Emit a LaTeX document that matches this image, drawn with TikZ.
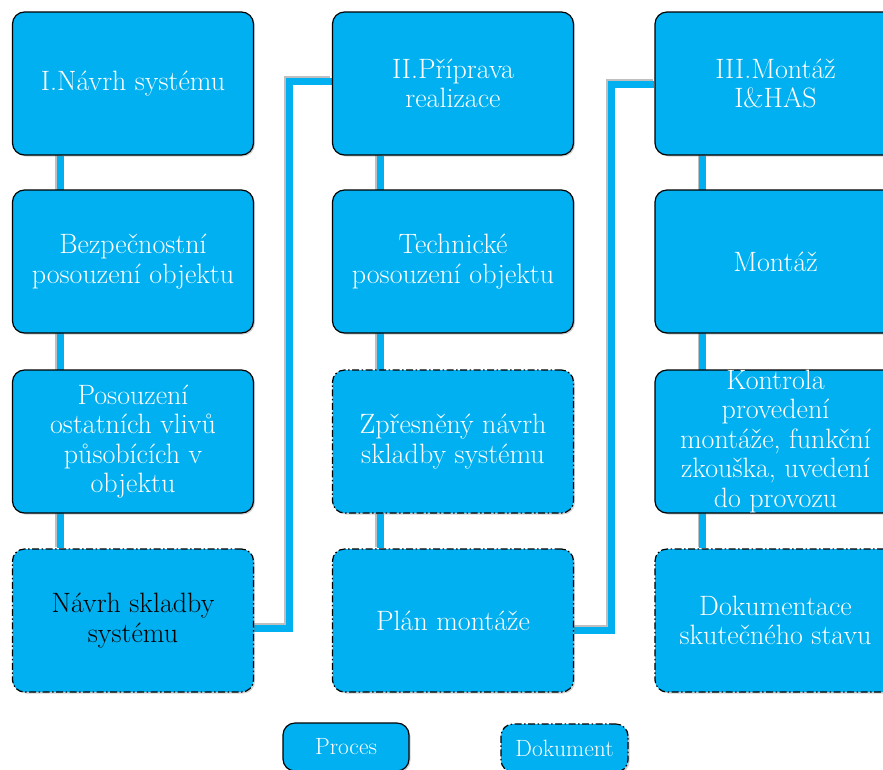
\documentclass[tikz,border=0pt]{standalone}
\usepackage{tikz}
\usetikzlibrary{shadows}
\usetikzlibrary{backgrounds}
\definecolor{boxcolor}{HTML}{00B0F0}
\definecolor{shadecolor}{HTML}{BFBFBF}

\tikzset{
  proces/.style={draw=black, line width=1.2pt, fill=boxcolor, rounded corners=12pt,
    text=white, align=center, inner sep=0pt,
    minimum width=241pt, minimum height=143pt,
    font=\rmfamily\fontsize{28}{29.5}\selectfont,
    drop shadow={opacity=0.35, shadow xshift=1.5pt, shadow yshift=-1.5pt}},
  dokument/.style={proces, dash pattern=on 7pt off 2.5pt on 1.5pt off 2.5pt},
  legend/.style={minimum height=48pt, font=\rmfamily\fontsize{23.5}{25}\selectfont},
  link/.style={draw=boxcolor, line width=7pt,
    preaction={draw=shadecolor, line width=7pt, transform canvas={shift={(-1.5pt,1.5pt)}}}}
}

\begin{document}
\begin{tikzpicture}[x=1pt,y=-1pt]
\useasboundingbox (0,0) rectangle (883,769);
\clip (0,0) rectangle (883,769);
% I. column
\node[proces] (a1) at (133,83.5) {I.Návrh systému};
\node[proces] (a2) at (133,261.5) {Bezpečnostní\\posouzení objektu};
\node[proces] (a3) at (133,441.5) {Posouzení\\ostatních vlivů\\působících v\\objektu};
\node[dokument, text=black] (a4) at (133,620.5) {Návrh skladby\\systému};
% II. column
\node[proces] (b1) at (453,83.5) {II.Příprava\\realizace};
\node[proces] (b2) at (453,261.5) {Technické\\posouzení objektu};
\node[dokument] (b3) at (453,441.5) {Zpřesněný návrh\\skladby systému};
\node[dokument] (b4) at (453,620.5) {Plán montáže};
% III. column
\node[proces] (c1) at (775.5,83.5) {III.Montáž\\I\&HAS};
\node[proces] (c2) at (775.5,261.5) {Montáž};
\node[proces] (c3) at (775.5,441.5) {Kontrola\\provedení\\montáže, funkční\\zkouška, uvedení\\do provozu};
\node[dokument] (c4) at (775.5,620.5) {Dokumentace\\skutečného stavu};
% legend
\node[proces, legend, minimum width=126pt] (lp) at (346,747) {Proces};
\node[dokument, legend, minimum width=127pt] (ld) at (564.5,748) {Dokument};

\begin{scope}[on background layer]
\foreach \c in {a,b,c}
    \draw[link] ([xshift=-73pt]\c1.south) -- ([xshift=-73pt]\c4.north);
\draw[link] ([yshift=-7.5pt]a4.east) -- ++(35,0) |- ([yshift=2.5pt]b1.west);
\draw[link] ([yshift=-9.5pt]b4.east) -- ++(37,0) |- ([yshift=-0.5pt]c1.west);
\end{scope}
\end{tikzpicture}
\end{document}
